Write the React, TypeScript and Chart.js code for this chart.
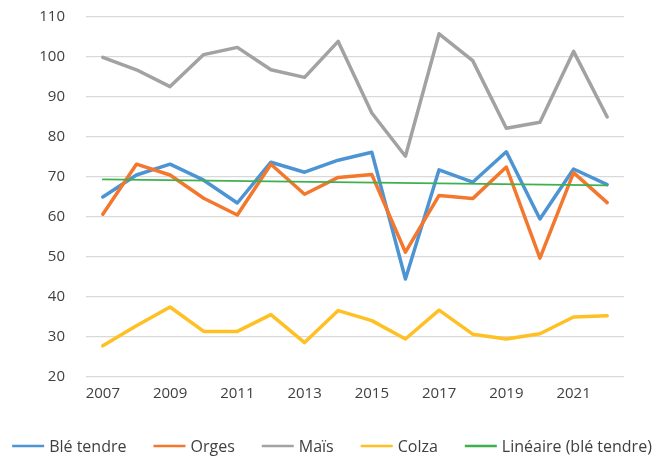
import React, { useEffect, useRef } from 'react';
import { Chart, registerables } from 'chart.js';
Chart.register(...registerables);

const years = ['2007', '2008', '2009', '2010', '2011', '2012', '2013', '2014', '2015', '2016', '2017', '2018', '2019', '2020', '2021', '2022'];
const bleTendre = [65, 70.5, 73.2, 69.2, 63.5, 73.7, 71.2, 74.2, 76.2, 44.5, 71.8, 68.7, 76.3, 59.5, 72, 68.1];
const orges = [60.7, 73.2, 70.5, 64.7, 60.5, 73.2, 65.7, 69.9, 70.6, 51.2, 65.4, 64.6, 72.5, 49.7, 71.1, 63.6];
const mais = [99.9, 96.8, 92.6, 100.6, 102.4, 96.8, 94.9, 103.9, 86, 75.2, 105.8, 99.1, 82.2, 83.7, 101.4, 85];
const colza = [27.8, 32.8, 37.5, 31.4, 31.4, 35.6, 28.6, 36.6, 34.1, 29.5, 36.7, 30.7, 29.5, 30.8, 35, 35.3];
const lineaireBle = [69.4, null, null, null, null, null, null, null, null, null, null, null, null, null, null, 67.9];
const yTicks = { min: 20, max: 110, step: 10 };

const FONT = "'Open Sans', sans-serif";
const TEXT = '#404040';

const customLegend = {
  id: 'customLegend',
  afterDraw(c: any) {
    const ctx = c.ctx as CanvasRenderingContext2D;
    ctx.save();
    ctx.font = `16px ${FONT}`;
    const lineW = 32;
    const gap = 5;
    const pad = 27;
    const items = c.data.datasets.map((ds: any) => ({
      text: ds.label as string,
      color: ds.borderColor as string,
      w: ctx.measureText(ds.label).width,
    }));
    const total = items.reduce((s: number, it: any) => s + lineW + gap + it.w, 0) + pad * (items.length - 1);
    let x = 332 - total / 2;
    const y = 446;
    ctx.textBaseline = 'middle';
    ctx.textAlign = 'left';
    for (const it of items) {
      ctx.strokeStyle = it.color;
      ctx.lineWidth = 2.5;
      ctx.beginPath();
      ctx.moveTo(x, y);
      ctx.lineTo(x + lineW, y);
      ctx.stroke();
      ctx.fillStyle = TEXT;
      ctx.fillText(it.text, x + lineW + gap, y + 1);
      x += lineW + gap + it.w + pad;
    }
    ctx.restore();
  },
};

export default function App() {
  const ref = useRef<HTMLCanvasElement>(null);
  useEffect(() => {
    document.body.style.margin = '0';
    const canvas = ref.current;
    if (!canvas) return;
    const chart = new Chart(canvas, {
      type: 'line',
      data: {
        labels: years,
        datasets: [
          { label: 'Blé tendre', data: bleTendre, borderColor: '#4C94D3', backgroundColor: '#4C94D3', borderWidth: 3.5, order: 4 },
          { label: 'Orges', data: orges, borderColor: '#F4772E', backgroundColor: '#F4772E', borderWidth: 3.5, order: 3 },
          { label: 'Maïs', data: mais, borderColor: '#A2A2A2', backgroundColor: '#A2A2A2', borderWidth: 3.5, order: 2 },
          { label: 'Colza', data: colza, borderColor: '#FFC024', backgroundColor: '#FFC024', borderWidth: 3.5, order: 1 },
          { label: 'Linéaire (blé tendre)', data: lineaireBle, borderColor: '#3FB04E', backgroundColor: '#3FB04E', borderWidth: 1.8, spanGaps: true, order: 0 },
        ],
      },
      options: {
        responsive: false,
        animation: false,
        devicePixelRatio: 1,
        layout: { padding: { top: 17, right: 30, left: 0, bottom: 0 } },
        elements: { point: { radius: 0, hoverRadius: 0 }, line: { tension: 0, borderJoinStyle: 'round', borderCapStyle: 'round' } },
        scales: {
          x: {
            offset: true,
            grid: { display: false, drawTicks: false },
            border: { display: false },
            ticks: {
              autoSkip: false,
              maxRotation: 0,
              padding: 8,
              color: TEXT,
              font: { family: FONT, size: 15 },
              callback: (_v: any, i: number) => (i % 2 === 0 ? years[i] : ''),
            },
            afterFit: (s: any) => { s.height = 83; },
          },
          y: {
            min: yTicks.min,
            max: yTicks.max,
            ticks: { stepSize: yTicks.step, padding: 21, color: TEXT, font: { family: FONT, size: 15 } },
            grid: { color: '#D9D9D9', lineWidth: 1.2, drawTicks: false },
            border: { display: false },
            afterFit: (s: any) => { s.width = 86; s.paddingTop = 9; s.paddingBottom = 9; },
          },
        },
        plugins: {
          tooltip: { enabled: false },
          legend: { display: false },
        },
      },
      plugins: [customLegend],
    } as any);
    return () => chart.destroy();
  }, []);
  return <canvas ref={ref} width={654} height={460} style={{ display: 'block' }} />;
}
